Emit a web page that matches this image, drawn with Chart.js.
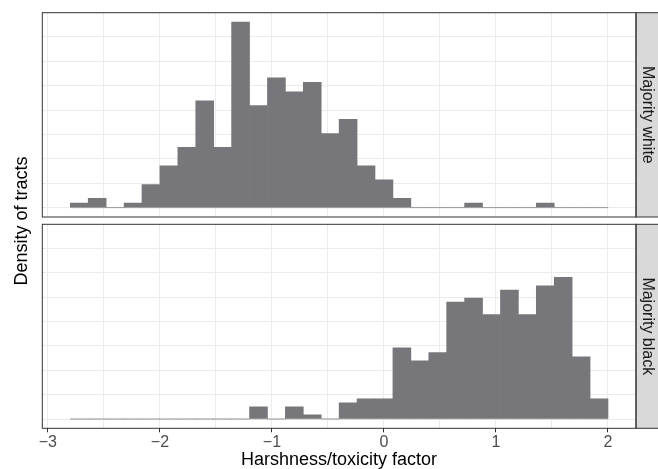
<!DOCTYPE html>
<html>
<head>
<meta charset="utf-8">
<script src="https://cdn.jsdelivr.net/npm/chart.js@4.4.1/dist/chart.umd.min.js"></script>
<style>
  body { margin: 0; background: #fff; width: 658px; height: 469px; position: relative; overflow: hidden;
         font-family: "Liberation Sans", Arial, sans-serif; }
  canvas { position: absolute; left: 0; }
  #topChart { top: 0; }
  #bottomChart { top: 220px; }
  .axis-title { position: absolute; font-size: 18px; line-height: 18px; color: #000; white-space: nowrap; text-align: center; }
</style>
</head>
<body>
<canvas id="topChart" width="658" height="220"></canvas>
<canvas id="bottomChart" width="658" height="249"></canvas>
<div class="axis-title" style="left:42px; width:594px; top:450px;">Harshness/toxicity factor</div>
<div class="axis-title" style="left:-129px; width:300px; top:211.5px; transform: rotate(-90deg);">Density of tracts</div>
<script>
// histogram bins (centres), 30 bins of width 0.16 from -2.8 to 2.0
const binMids = [-2.72, -2.56, -2.40, -2.24, -2.08, -1.92, -1.76, -1.60, -1.44, -1.28,
                 -1.12, -0.96, -0.80, -0.64, -0.48, -0.32, -0.16, 0.00, 0.16, 0.32,
                  0.48, 0.64, 0.80, 0.96, 1.12, 1.28, 1.44, 1.60, 1.76, 1.92];
const binRange = [-2.8, 2.0];

// densities per bin
const whiteDensity = [0.024, 0.048, 0, 0.024, 0.119, 0.214, 0.309, 0.547, 0.309, 0.951,
                      0.523, 0.665, 0.594, 0.642, 0.380, 0.452, 0.214, 0.143, 0.048, 0,
                      0, 0, 0.024, 0, 0, 0, 0.024, 0, 0, 0];
const blackDensity = [0, 0, 0, 0, 0, 0, 0, 0, 0, 0,
                      0.063, 0, 0.063, 0.022, 0, 0.083, 0.104, 0.104, 0.365, 0.298,
                      0.341, 0.600, 0.620, 0.535, 0.661, 0.535, 0.683, 0.727, 0.319, 0.104];

const xGrid = [-3, -2.5, -2, -1.5, -1, -0.5, 0, 0.5, 1, 1.5, 2];
const yGrid = [0, 0.125, 0.25, 0.375, 0.5, 0.625, 0.75, 0.875];
const xLimits = [-3.05, 2.25];

const yMax = Math.max(...whiteDensity, ...blackDensity);

Chart.defaults.font.family = '"Liberation Sans", Arial, sans-serif';
Chart.defaults.animation = false;

// panel border + facet strip
const panelPlugin = {
  id: 'panel',
  afterDraw(chart, args, opts) {
    const { ctx, chartArea: a } = chart;
    ctx.save();
    ctx.fillStyle = '#d9d9d9';
    ctx.fillRect(a.right, a.top, chart.width - a.right + 2, a.bottom - a.top);
    ctx.strokeStyle = '#333333';
    ctx.lineWidth = 1;
    ctx.strokeRect(a.right, a.top, chart.width - a.right + 5, a.bottom - a.top);
    ctx.strokeRect(a.left, a.top, a.right - a.left, a.bottom - a.top);
    ctx.translate((a.right + chart.width) / 2, (a.top + a.bottom) / 2);
    ctx.rotate(Math.PI / 2);
    ctx.fillStyle = '#1a1a1a';
    ctx.font = '16px "Liberation Sans", Arial, sans-serif';
    ctx.textAlign = 'center';
    ctx.textBaseline = 'middle';
    ctx.fillText(opts.label, 0, 0);
    ctx.restore();
  }
};

function makePanel(canvasId, density, label, showX, padding) {
  return new Chart(document.getElementById(canvasId), {
    type: 'bar',
    data: {
      datasets: [{
        data: binMids.map((x, i) => ({ x, y: density[i] })),
        backgroundColor: '#77777b',
        borderWidth: 0,
        barPercentage: 1,
        categoryPercentage: 1,
        order: 0
      }, {
        type: 'line',
        data: binRange.map(x => ({ x, y: 0 })),
        borderColor: '#c4c4c4',
        borderWidth: 1,
        pointRadius: 0,
        order: 1
      }]
    },
    options: {
      responsive: false,
      layout: { padding },
      plugins: { legend: { display: false }, tooltip: { enabled: false }, panel: { label } },
      scales: {
        x: {
          type: 'linear',
          offset: false,
          min: xLimits[0], max: xLimits[1],
          afterBuildTicks: s => { s.ticks = xGrid.map(v => ({ value: v })); },
          grid: {
            offset: false,
            color: '#ebebeb', lineWidth: 1,
            drawTicks: showX, tickLength: 4,
            tickColor: c => (c.tick && Number.isInteger(c.tick.value)) ? '#333333' : 'rgba(0,0,0,0)'
          },
          border: { display: false },
          ticks: {
            display: showX, autoSkip: false, maxRotation: 0, padding: 1,
            color: '#4d4d4d', font: { size: 16 },
            callback: v => Number.isInteger(v) ? String(v).replace('-', '\u2212') : ''
          }
        },
        y: {
          min: -0.05 * yMax, max: 1.05 * yMax,
          afterBuildTicks: s => { s.ticks = yGrid.map(v => ({ value: v })); },
          grid: { color: '#ebebeb', lineWidth: 1, drawTicks: false },
          border: { display: false },
          ticks: { display: false }
        }
      }
    },
    plugins: [panelPlugin]
  });
}

makePanel('topChart', whiteDensity, 'Majority white', false, { left: 42.3, right: 22, top: 12.7, bottom: 3 });
makePanel('bottomChart', blackDensity, 'Majority black', true, { left: 42.3, right: 22, top: 4.3, bottom: 15.5 });
</script>
</body>
</html>
